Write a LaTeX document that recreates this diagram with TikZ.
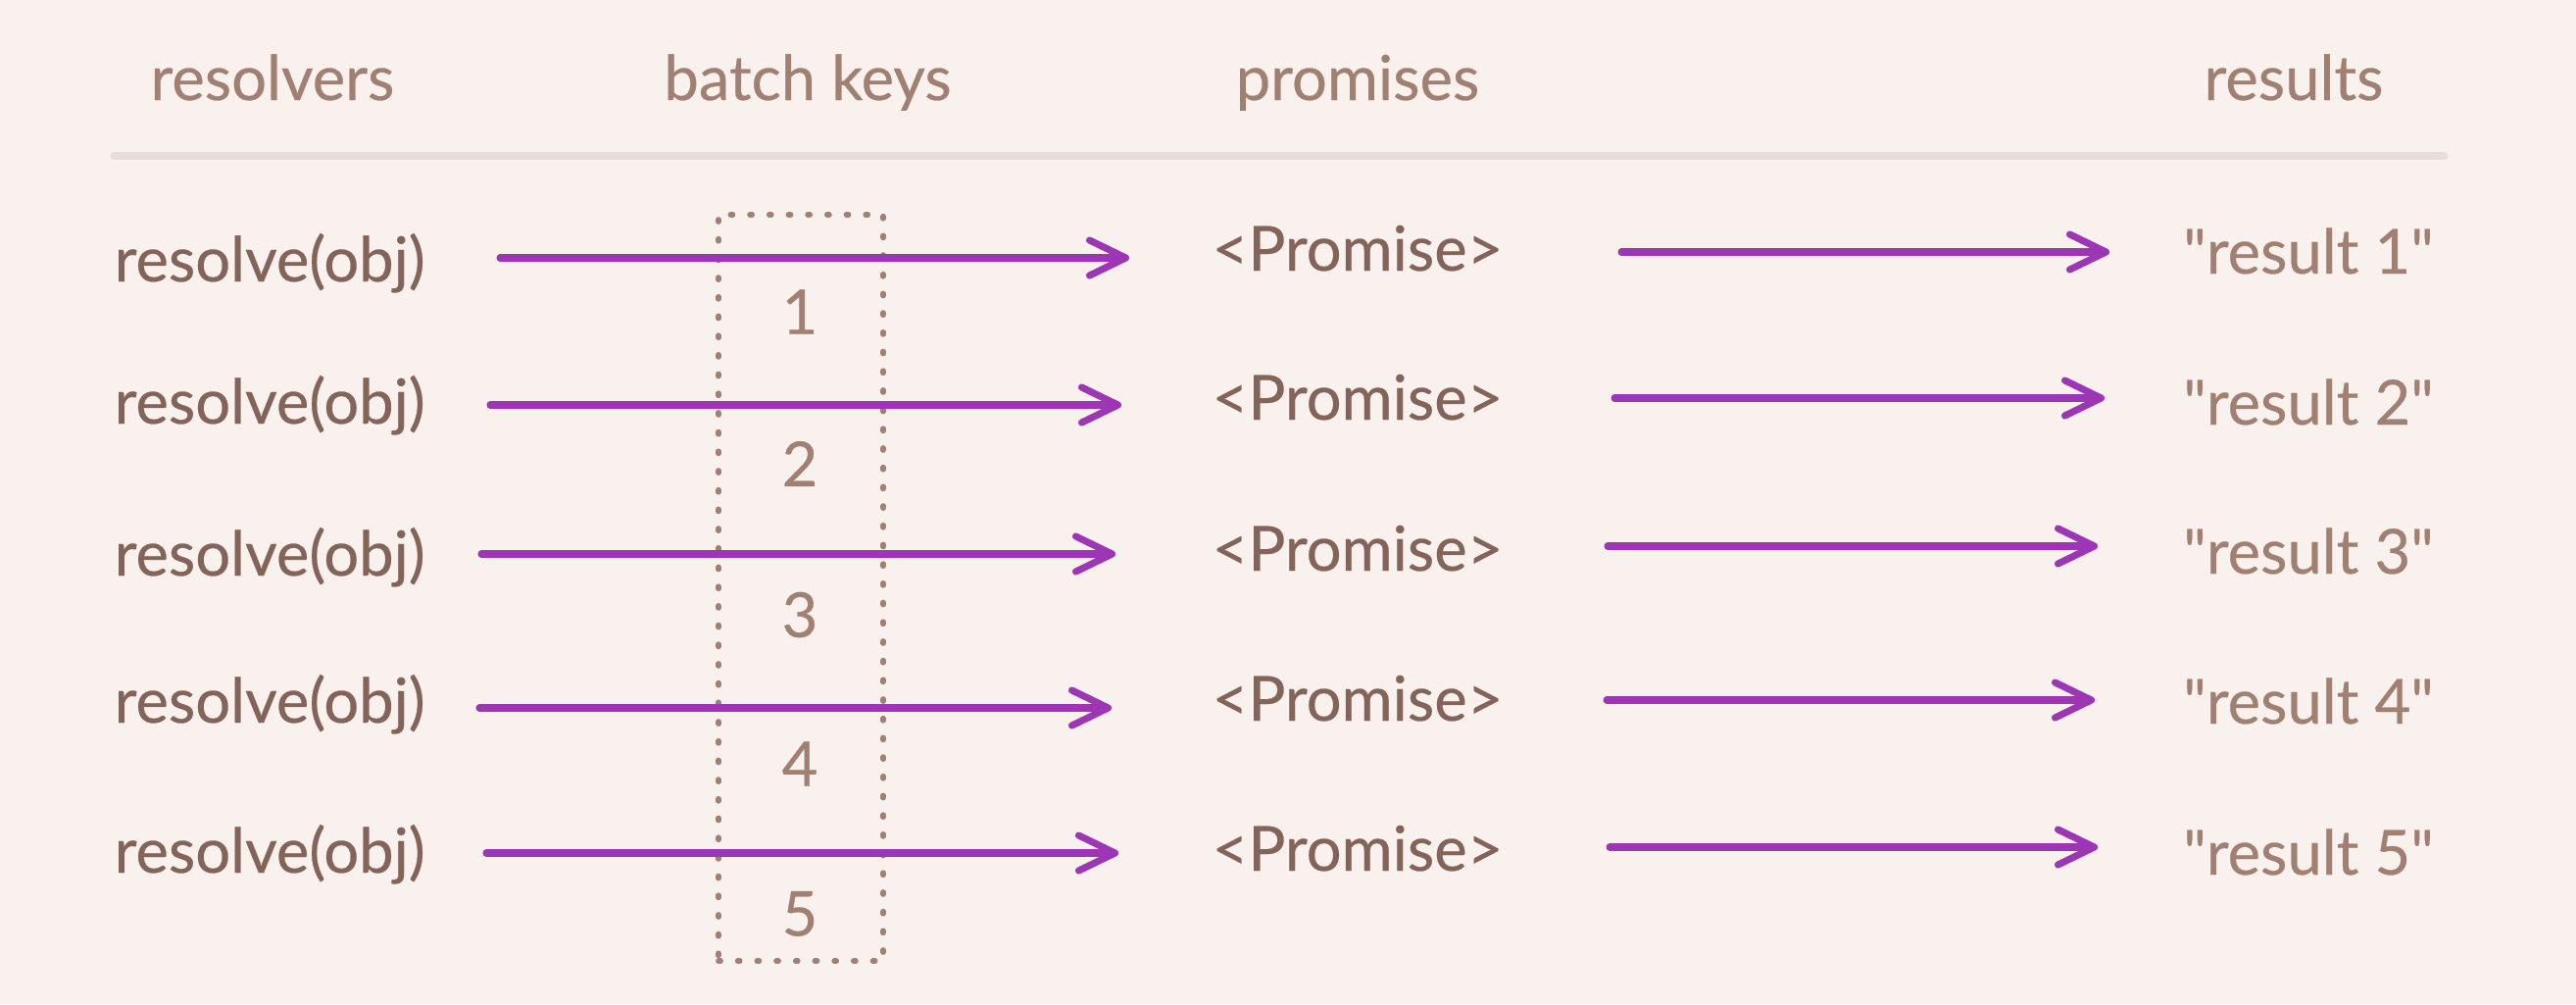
\documentclass[tikz,border=0pt]{standalone}
\usepackage{fontspec}
\setmainfont{Lato}[Ligatures=TeXOff, FakeBold=0.4]
\usetikzlibrary{arrows.meta}
\definecolor{bg}{HTML}{F8F1EE}
\definecolor{rule}{HTML}{EADDD7}
\definecolor{lightbrown}{HTML}{A18072}
\definecolor{darkbrown}{HTML}{846358}
\definecolor{violet}{HTML}{9C36B5}
\begin{document}
\begin{tikzpicture}[x=0.01cm,y=-0.01cm,
  txt/.style={inner sep=0pt, font=\fontsize{18pt}{21pt}\selectfont},
  head/.style={txt, text=lightbrown, anchor=base},
  call/.style={txt, text=darkbrown, anchor=base west},
  prom/.style={txt, text=darkbrown, anchor=base},
  res/.style={txt, text=lightbrown, anchor=base},
  num/.style={txt, text=lightbrown, anchor=center},
  flow/.style={draw=violet, line width=2pt, line cap=round,
    -{Straight Barb[length=3.7mm, width=3.6mm, round]}},
  batchbox/.style={draw=lightbrown, line width=1.6pt, line cap=round,
    dash pattern=on 0.6pt off 5pt}
]
\fill[bg] (0,0) rectangle (2628,1024);
\useasboundingbox (0,0) rectangle (2628,1024);

% headers
\node[head] (h1) at (278,102) {resolvers};
\node[head] (h2) at (824,102) {batch keys};
\node[head] (h3) at (1385,102) {promises};
\node[head] (h4) at (2340,102) {results};
\coordinate (rl) at (116,159);
\coordinate (rr) at (2494,159);
\draw[rule, line width=2pt, line cap=round] (rl) -- (rr);

% batch box
\node[batchbox, minimum width=1.68cm, minimum height=7.61cm, inner sep=0pt] (box) at (817,599.5) {};

% batch key numbers
\node[num] (n1) at (816,318) {1};
\node[num] (n2) at (816,473) {2};
\node[num] (n3) at (816,627) {3};
\node[num] (n4) at (816,779) {4};
\node[num] (n5) at (816,932) {5};

% rows
\foreach \i/\yb/\yp/\yr/\lsx/\lex/\ly/\rsx/\rex/\ry in {
  1/287/276/279/510/1152/263/1654/2152/257,
  2/432/428/433/500/1144/413/1647/2147/406,
  3/587/582/585/491/1138/565/1640/2140/557,
  4/737/735/738/489/1134/722/1639/2137/714,
  5/890/888/892/496/1141/870/1642/2140/864}{
  \node[call] (c\i) at (116,\yb) {resolve(obj)};
  \node[prom] (p\i) at (1385,\yp) {<Promise>};
  \node[res] (r\i) at (2355,\yr) {"result \i"};
  \coordinate (ls\i) at (\lsx,\ly);
  \coordinate (le\i) at (\lex,\ly);
  \coordinate (rs\i) at (\rsx,\ry);
  \coordinate (re\i) at (\rex,\ry);
  \draw[flow] (ls\i) -- (le\i);
  \draw[flow] (rs\i) -- (re\i);
}
\end{tikzpicture}
\end{document}
